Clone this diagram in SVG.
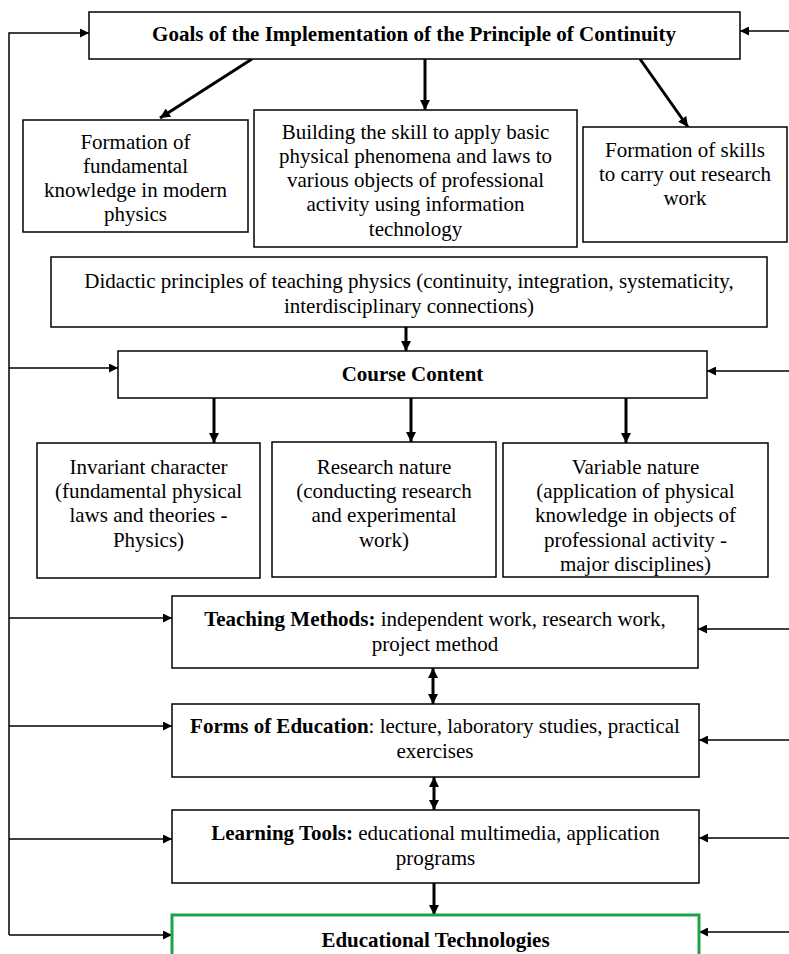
<svg xmlns="http://www.w3.org/2000/svg" width="789" height="954" viewBox="0 0 789 954">
<style>
.box{fill:#fff;stroke:#000;stroke-width:1.5}
.green{fill:#fff;stroke:#1aa34a;stroke-width:3}
text{font-family:"Liberation Serif","Times New Roman",serif;font-size:21px;fill:#000}
.c{text-anchor:middle}
.b{font-weight:bold}
.thin{stroke:#000;stroke-width:1.5;fill:none}
.thick{stroke:#000;stroke-width:3;fill:none}
</style>
<defs>
<marker id="ah" viewBox="0 0 10 10" refX="10" refY="5" markerWidth="12" markerHeight="9" markerUnits="userSpaceOnUse" orient="auto-start-reverse"><path d="M0,0 L10,5 L0,10 z" fill="#000"/></marker>
<marker id="ahk" viewBox="0 0 10 10" refX="10" refY="5" markerWidth="12" markerHeight="10" markerUnits="userSpaceOnUse" orient="auto-start-reverse"><path d="M0,0 L10,5 L0,10 z" fill="#000"/></marker>
</defs>
<rect width="789" height="954" fill="#fff"/>
<g id="connectors">
<polyline class="thin" points="9,935 9,33 89,33" marker-end="url(#ah)"/>
<line class="thin" x1="789" y1="31" x2="740" y2="31" marker-end="url(#ah)"/>
<line class="thick" x1="252" y1="59" x2="160" y2="118" marker-end="url(#ahk)"/>
<line class="thick" x1="425" y1="59" x2="425" y2="110" marker-end="url(#ahk)"/>
<line class="thick" x1="640" y1="59" x2="688" y2="127" marker-end="url(#ahk)"/>
<line class="thick" x1="406" y1="327" x2="406" y2="351" marker-end="url(#ahk)"/>
<line class="thin" x1="9" y1="368" x2="118" y2="368" marker-end="url(#ah)"/>
<line class="thin" x1="789" y1="371" x2="707" y2="371" marker-end="url(#ah)"/>
<line class="thick" x1="214" y1="398" x2="214" y2="443" marker-end="url(#ahk)"/>
<line class="thick" x1="411" y1="398" x2="411" y2="442" marker-end="url(#ahk)"/>
<line class="thick" x1="626" y1="398" x2="626" y2="443" marker-end="url(#ahk)"/>
<line class="thin" x1="9" y1="618" x2="172" y2="618" marker-end="url(#ah)"/>
<line class="thin" x1="789" y1="629" x2="698" y2="629" marker-end="url(#ah)"/>
<line class="thick" x1="433" y1="668" x2="433" y2="704" marker-start="url(#ahk)" marker-end="url(#ahk)"/>
<line class="thin" x1="9" y1="726" x2="172" y2="726" marker-end="url(#ah)"/>
<line class="thin" x1="789" y1="740" x2="699" y2="740" marker-end="url(#ah)"/>
<line class="thick" x1="434" y1="777" x2="434" y2="810" marker-start="url(#ahk)" marker-end="url(#ahk)"/>
<line class="thin" x1="9" y1="839" x2="172" y2="839" marker-end="url(#ah)"/>
<line class="thin" x1="789" y1="838" x2="699" y2="838" marker-end="url(#ah)"/>
<line class="thick" x1="434" y1="883" x2="434" y2="915" marker-end="url(#ahk)"/>
<line class="thin" x1="9" y1="935" x2="172" y2="935" marker-end="url(#ah)"/>
<line class="thin" x1="789" y1="932" x2="699" y2="932" marker-end="url(#ah)"/>
</g>
<g id="goals">
<rect class="box" x="89" y="12" width="651" height="47"/>
<text class="c b" x="414" y="41">Goals of the Implementation of the Principle of Continuity</text>
</g>
<g id="fundamental">
<rect class="box" x="23" y="120" width="225" height="112"/>
<text class="c" x="135.5" y="149">Formation of</text>
<text class="c" x="135.5" y="173">fundamental</text>
<text class="c" x="135.5" y="197">knowledge in modern</text>
<text class="c" x="135.5" y="221">physics</text>
</g>
<g id="building">
<rect class="box" x="254" y="110" width="323" height="137"/>
<text class="c" x="415.5" y="139">Building the skill to apply basic</text>
<text class="c" x="415.5" y="163">physical phenomena and laws to</text>
<text class="c" x="415.5" y="187">various objects of professional</text>
<text class="c" x="415.5" y="211">activity using information</text>
<text class="c" x="415.5" y="236">technology</text>
</g>
<g id="research-skills">
<rect class="box" x="583" y="127" width="204" height="115"/>
<text class="c" x="685" y="157">Formation of skills</text>
<text class="c" x="685" y="181">to carry out research</text>
<text class="c" x="685" y="205">work</text>
</g>
<g id="didactic">
<rect class="box" x="51" y="257" width="716" height="70"/>
<text class="c" x="409" y="288">Didactic principles of teaching physics (continuity, integration, systematicity,</text>
<text class="c" x="409" y="313">interdisciplinary connections)</text>
</g>
<g id="course">
<rect class="box" x="118" y="351" width="589" height="47"/>
<text class="c b" x="412.5" y="381">Course Content</text>
</g>
<g id="invariant">
<rect class="box" x="37" y="443" width="223" height="135"/>
<text class="c" x="148.5" y="474">Invariant character</text>
<text class="c" x="148.5" y="498">(fundamental physical</text>
<text class="c" x="148.5" y="522">laws and theories -</text>
<text class="c" x="148.5" y="547">Physics)</text>
</g>
<g id="research-nature">
<rect class="box" x="272" y="442" width="224" height="135"/>
<text class="c" x="384" y="474">Research nature</text>
<text class="c" x="384" y="498">(conducting research</text>
<text class="c" x="384" y="522">and experimental</text>
<text class="c" x="384" y="547">work)</text>
</g>
<g id="variable">
<rect class="box" x="503" y="443" width="265" height="134"/>
<text class="c" x="635.5" y="474">Variable nature</text>
<text class="c" x="635.5" y="498">(application of physical</text>
<text class="c" x="635.5" y="522">knowledge in objects of</text>
<text class="c" x="635.5" y="547">professional activity -</text>
<text class="c" x="635.5" y="571">major disciplines)</text>
</g>
<g id="methods">
<rect class="box" x="172" y="596" width="526" height="72"/>
<text class="c" x="435" y="626"><tspan class="b">Teaching Methods:</tspan> independent work, research work,</text>
<text class="c" x="435" y="651">project method</text>
</g>
<g id="forms">
<rect class="box" x="172" y="704" width="527" height="73"/>
<text class="c" x="435" y="733"><tspan class="b">Forms of Education</tspan>: lecture, laboratory studies, practical</text>
<text class="c" x="435" y="758">exercises</text>
</g>
<g id="tools">
<rect class="box" x="172" y="810" width="527" height="73"/>
<text class="c" x="435.5" y="840"><tspan class="b">Learning Tools:</tspan> educational multimedia, application</text>
<text class="c" x="435.5" y="865">programs</text>
</g>
<g id="technologies">
<rect class="green" x="172" y="915" width="527" height="50"/>
<text class="c b" x="435.5" y="947">Educational Technologies</text>
</g>
</svg>
